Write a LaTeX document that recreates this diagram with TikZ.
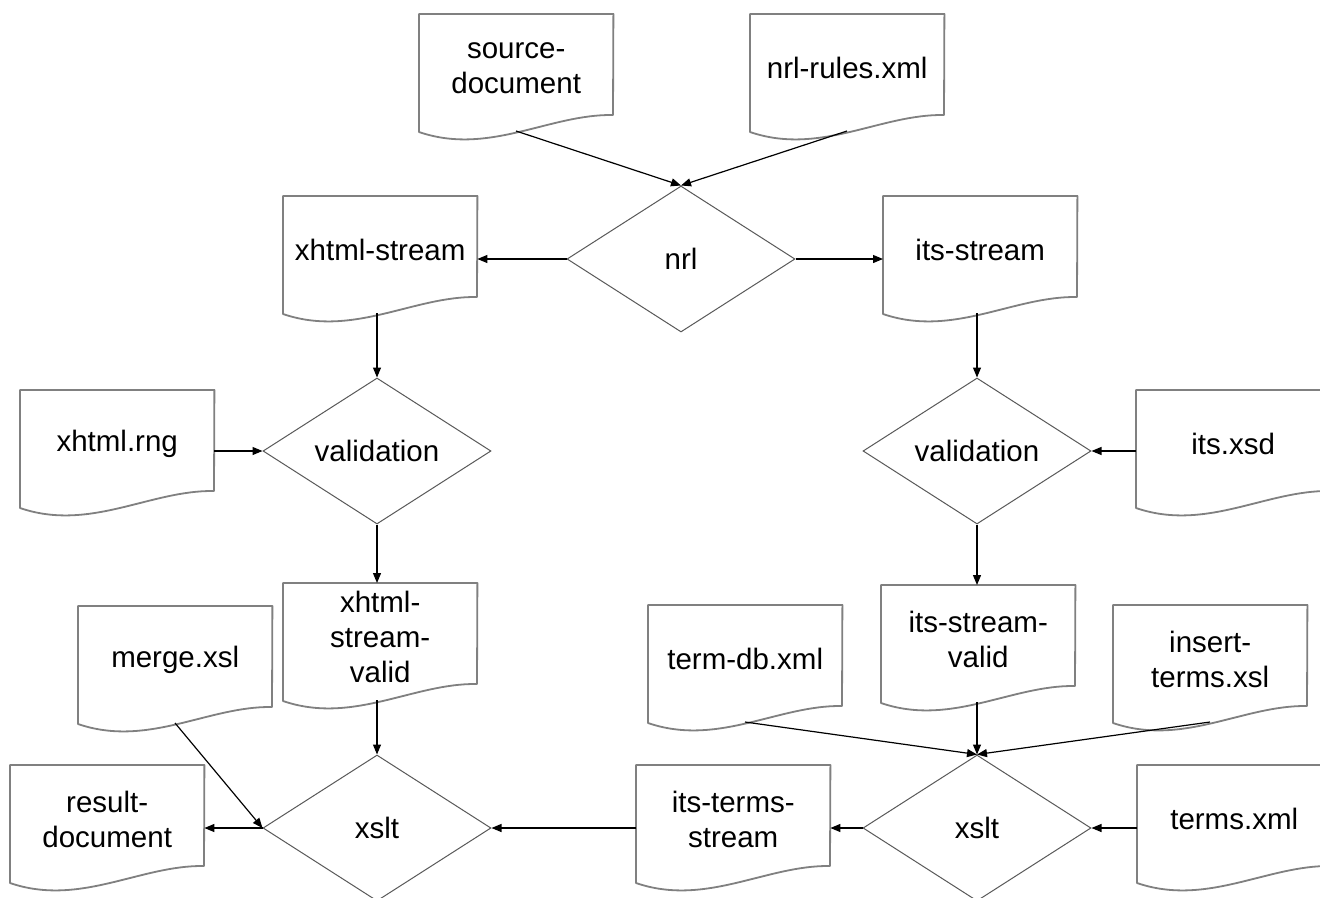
\documentclass[tikz,border=0pt]{standalone}
\usepackage{fontspec}
\setmainfont{Liberation Sans}
\usetikzlibrary{shapes.geometric,calc,arrows.meta}

\tikzset{
  docbox/.style={rectangle, anchor=north west, minimum width=194pt, minimum height=108pt, inner sep=0pt, align=center, font=\fontsize{29.5}{35}\selectfont},
  docline/.style={draw=black!50, line width=1.8pt, line join=round},
  dec/.style={diamond, draw=black!65, line width=1pt, minimum width=228pt, minimum height=146pt, inner sep=0pt, aspect=1.56, font=\fontsize{29.5}{35}\selectfont},
  arr/.style={draw=black, line width=1.2pt, -{Triangle[length=10pt,width=8pt]}},
}

\newcommand\docshape[4]{%
  \node[docbox] (#1) at (#2,#3) {#4};
  \draw[docline] (#1.north west) -- (#1.north east) -- ($(#1.north west)+(194,101)$) .. controls ($(#1.north west)+(130,100)$) and ($(#1.north west)+(70,142)$) .. ($(#1.north west)+(0,118)$) -- cycle;
  \coordinate (#1-w) at ($(#1.north west)+(97,117)$);
}

\begin{document}
\begin{tikzpicture}[x=1pt,y=-1pt]
\clip (0,0) rectangle (1320,897);
\fill[white] (0,0) rectangle (1320,897);

% documents
\docshape{sd}{419}{14}{source-\\document}
\docshape{nr}{750}{14}{nrl-rules.xml}
\docshape{xs}{283}{196}{xhtml-stream}
\docshape{is}{883}{196}{its-stream}
\docshape{rng}{20}{390}{xhtml.rng}
\docshape{xsd}{1136}{390}{its.xsd}
\docshape{xsv}{283}{583}{xhtml-\\stream-\\valid}
\docshape{isv}{881}{585}{its-stream-\\valid}
\docshape{mx}{78}{606}{merge.xsl}
\docshape{tdb}{648}{605}{term-db.xml}
\docshape{ins}{1113}{605}{insert-\\terms.xsl}
\docshape{rd}{10}{765}{result-\\document}
\docshape{its}{636}{765}{its-terms-\\stream}
\docshape{tx}{1137}{765}{terms.xml}

% decisions
\node[dec] (nrl) at (681,259) {nrl};
\node[dec] (valL) at (377,451) {validation};
\node[dec] (valR) at (977,451) {validation};
\node[dec] (xsltL) at (377,828) {xslt};
\node[dec] (xsltR) at (977,828) {xslt};

% connectors
\draw[arr] (sd-w) -- (nrl.north);
\draw[arr] (nr-w) -- (nrl.north);
\draw[arr] (nrl.west) -- (nrl.west -| xs.east);
\draw[arr] (nrl.east) -- (nrl.east -| is.west);
\draw[arr] (valL.north |- xs-w) -- (valL.north);
\draw[arr] (valR.north |- is-w) -- (valR.north);
\draw[arr] (valL.west -| rng.east) -- (valL.west);
\draw[arr] (valR.east -| xsd.west) -- (valR.east);
\draw[arr] (valL.south) -- (valL.south |- xsv.north);
\draw[arr] (valR.south) -- (valR.south |- isv.north);
\draw[arr] (xsltL.north |- xsv-w) -- (xsltL.north);
\draw[arr] (xsltR.north |- isv-w) -- (xsltR.north);
\draw[arr] (mx-w) -- (xsltL.west);
\draw[arr] (xsltL.west) -- (xsltL.west -| rd.east);
\draw[arr] (xsltL.east -| its.west) -- (xsltL.east);
\draw[arr] (xsltR.west) -- (xsltR.west -| its.east);
\draw[arr] (xsltR.east -| tx.west) -- (xsltR.east);
\draw[arr] (tdb-w) -- (xsltR.north);
\draw[arr] (ins-w) -- (xsltR.north);
\end{tikzpicture}
\end{document}
